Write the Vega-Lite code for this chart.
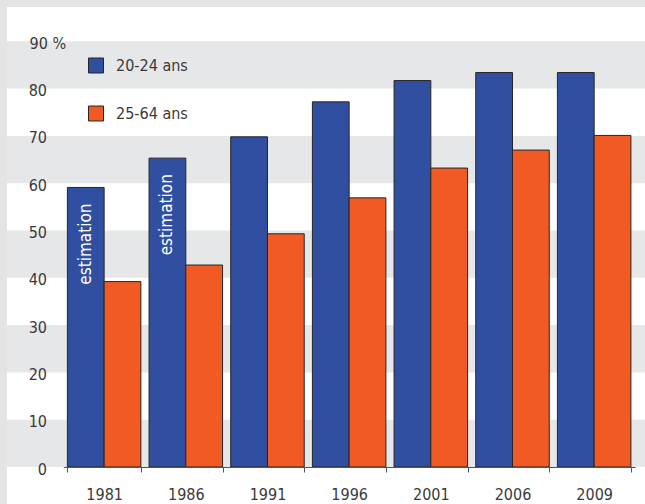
{
  "$schema": "https://vega.github.io/schema/vega-lite/v6.json",
  "width": 638,
  "height": 497,
  "autosize": {"type": "none"},
  "padding": {"left": 7, "top": 7, "right": 0, "bottom": 0},
  "background": "#e4e4e4",
  "view": {"fill": "white", "stroke": null},
  "config": {
    "font": "DejaVu Sans Condensed, sans-serif",
    "axis": {"labelFont": "DejaVu Sans Condensed, sans-serif", "labelColor": "#3a3a3a", "labelFontSize": 16, "title": null},
    "legend": {"labelFont": "DejaVu Sans Condensed, sans-serif", "labelColor": "#3a3a3a", "labelFontSize": 16}
  },
  "datasets": {
    "bars": [
      {"year": "1981", "group": "20-24 ans", "value": 59.1, "note": "estimation"},
      {"year": "1981", "group": "25-64 ans", "value": 39.2, "note": ""},
      {"year": "1986", "group": "20-24 ans", "value": 65.3, "note": "estimation"},
      {"year": "1986", "group": "25-64 ans", "value": 42.7, "note": ""},
      {"year": "1991", "group": "20-24 ans", "value": 69.8, "note": ""},
      {"year": "1991", "group": "25-64 ans", "value": 49.3, "note": ""},
      {"year": "1996", "group": "20-24 ans", "value": 77.2, "note": ""},
      {"year": "1996", "group": "25-64 ans", "value": 56.9, "note": ""},
      {"year": "2001", "group": "20-24 ans", "value": 81.7, "note": ""},
      {"year": "2001", "group": "25-64 ans", "value": 63.2, "note": ""},
      {"year": "2006", "group": "20-24 ans", "value": 83.4, "note": ""},
      {"year": "2006", "group": "25-64 ans", "value": 67.0, "note": ""},
      {"year": "2009", "group": "20-24 ans", "value": 83.4, "note": ""},
      {"year": "2009", "group": "25-64 ans", "value": 70.1, "note": ""}
    ],
    "bands": [
      {"lo": 0, "hi": 10},
      {"lo": 20, "hi": 30},
      {"lo": 40, "hi": 50},
      {"lo": 60, "hi": 70},
      {"lo": 80, "hi": 90}
    ]
  },
  "layer": [
    {
      "data": {"name": "bands"},
      "mark": {"type": "rect", "color": "#e6e7e8"},
      "encoding": {
        "y": {"field": "lo", "type": "quantitative", "scale": {"domain": [0, 90], "nice": false, "range": [460, 34.3]},
          "axis": {"values": [0, 10, 20, 30, 40, 50, 60, 70, 80, 90], "zindex": 1, "domain": false, "ticks": false, "grid": false, "offset": -40, "labelPadding": {"condition": {"test": "datum.value == 90", "value": 18}, "value": 0.5},
            "labelAlign": {"condition": {"test": "datum.value == 90", "value": "left"}, "value": "right"},
            "labelOffset": 2, "labelExpr": "datum.value == 90 ? '90 %' : datum.label"}},
        "y2": {"field": "hi"}
      }
    },
    {
      "data": {"name": "bars"},
      "mark": {"type": "bar", "stroke": "#262626", "strokeWidth": 1},
      "encoding": {
        "x": {"field": "year", "type": "nominal", "scale": {"range": [56.3, 628], "paddingInner": 0.1, "paddingOuter": 0.05},
          "axis": {"labelAngle": 0, "zindex": 1, "offset": -37, "domainColor": "#555555", "tickColor": "#555555", "tickSize": 5, "tickBand": "extent", "labelPadding": 14, "grid": false}},
        "xOffset": {"field": "group", "type": "nominal", "scale": {"paddingInner": 0, "paddingOuter": 0}},
        "y": {"field": "value", "type": "quantitative"},
        "color": {"field": "group", "type": "nominal",
          "scale": {"domain": ["20-24 ans", "25-64 ans"], "range": ["#314fa0", "#f15a22"]},
          "legend": {"orient": "none", "legendX": 81, "legendY": 50.5, "title": null, "symbolType": "square", "symbolSize": 225, "symbolStrokeColor": "#262626", "symbolStrokeWidth": 1, "rowPadding": 28, "labelOffset": 12, "padding": 0}}
      }
    },
    {
      "data": {"name": "bars"},
      "transform": [{"filter": "datum.note != ''"}],
      "mark": {"type": "text", "angle": 270, "align": "right", "baseline": "middle", "dx": -16, "color": "white", "fontSize": 17, "font": "DejaVu Sans Condensed, sans-serif"},
      "encoding": {
        "x": {"field": "year", "type": "nominal"},
        "xOffset": {"field": "group", "type": "nominal"},
        "y": {"field": "value", "type": "quantitative"},
        "text": {"field": "note"}
      }
    }
  ]
}
